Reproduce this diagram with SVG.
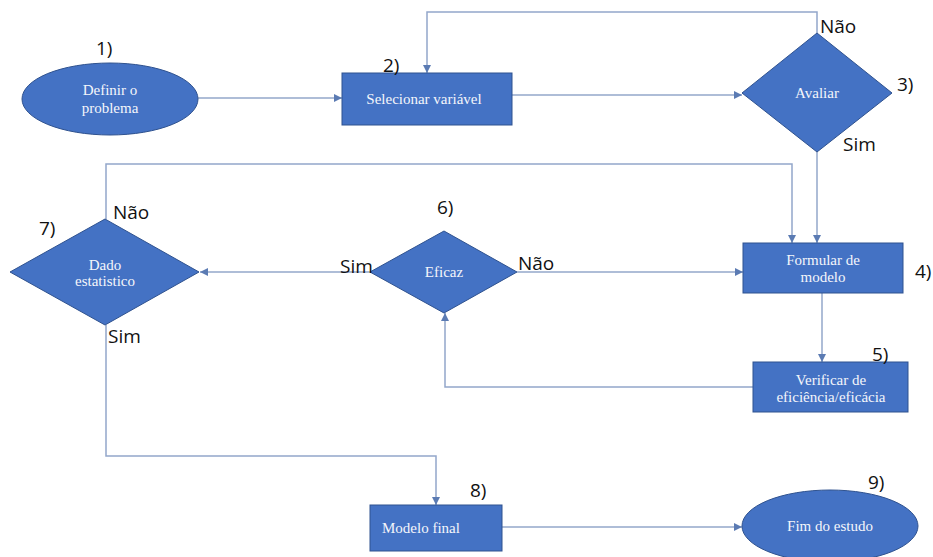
<svg xmlns="http://www.w3.org/2000/svg" width="933" height="557" viewBox="0 0 933 557">
  <style>
    .shape { fill: #4472C4; stroke: #2F528F; stroke-width: 1; }
    .ntext { font-family: "Liberation Serif", "Times New Roman", serif; font-size: 15px; fill: #F4F6FB; text-anchor: middle; }
    .label { font-family: "Open Sans", "Liberation Sans", sans-serif; font-size: 19px; fill: #111111; }
    .conn { fill: none; stroke: #93A7CA; stroke-width: 1.5; }
  </style>
  <defs>
    <marker id="arrow" viewBox="0 0 10 10" refX="10" refY="5" markerWidth="10" markerHeight="8" markerUnits="userSpaceOnUse" orient="auto">
      <path d="M0,0 L10,5 L0,10 Z" fill="#5B7BB3"/>
    </marker>
  </defs>
  <rect width="933" height="557" fill="#FFFFFF"/>

  <!-- connectors -->
  <g id="connectors">
    <path class="conn" d="M198,98 H342" marker-end="url(#arrow)"/>
    <path class="conn" d="M512,95 H742" marker-end="url(#arrow)"/>
    <path class="conn" d="M817,33 V12 H427 V73" marker-end="url(#arrow)"/>
    <path class="conn" d="M817,152 V243" marker-end="url(#arrow)"/>
    <path class="conn" d="M106,219 V164 H792 V243" marker-end="url(#arrow)"/>
    <path class="conn" d="M517,272 H743" marker-end="url(#arrow)"/>
    <path class="conn" d="M370,272 H200" marker-end="url(#arrow)"/>
    <path class="conn" d="M822,293 V362" marker-end="url(#arrow)"/>
    <path class="conn" d="M753,387 H445 V313" marker-end="url(#arrow)"/>
    <path class="conn" d="M106,325 V456 H436 V505" marker-end="url(#arrow)"/>
    <path class="conn" d="M502,527 H742" marker-end="url(#arrow)"/>
  </g>

  <!-- 1) Definir o problema -->
  <g id="n1">
    <ellipse class="shape" cx="110" cy="99" rx="88" ry="36"/>
    <text class="ntext" x="110" y="95">Definir o</text>
    <text class="ntext" x="110" y="113">problema</text>
    <text class="label" x="96" y="55">1)</text>
  </g>

  <!-- 2) Selecionar variável -->
  <g id="n2">
    <rect class="shape" x="342" y="73" width="170" height="52"/>
    <text class="ntext" x="424" y="104">Selecionar variável</text>
    <text class="label" x="383" y="72">2)</text>
  </g>

  <!-- 3) Avaliar -->
  <g id="n3">
    <polygon class="shape" points="817,33 892,93 817,152 742,93"/>
    <text class="ntext" x="817" y="98">Avaliar</text>
    <text class="label" x="820" y="33">Não</text>
    <text class="label" x="897" y="91">3)</text>
    <text class="label" x="843" y="151">Sim</text>
  </g>

  <!-- 4) Formular de modelo -->
  <g id="n4">
    <rect class="shape" x="743" y="243" width="160" height="50"/>
    <text class="ntext" x="823" y="265">Formular de</text>
    <text class="ntext" x="823" y="282">modelo</text>
    <text class="label" x="915" y="278">4)</text>
  </g>

  <!-- 5) Verificar de eficiência/eficácia -->
  <g id="n5">
    <rect class="shape" x="753" y="362" width="155" height="50"/>
    <text class="ntext" x="831" y="385">Verificar de</text>
    <text class="ntext" x="831" y="402">eficiência/eficácia</text>
    <text class="label" x="872" y="361">5)</text>
  </g>

  <!-- 6) Eficaz -->
  <g id="n6">
    <polygon class="shape" points="444,231 517,272 444,313 370,272"/>
    <text class="ntext" x="444" y="277">Eficaz</text>
    <text class="label" x="437" y="214">6)</text>
    <text class="label" x="340" y="273">Sim</text>
    <text class="label" x="518" y="270">Não</text>
  </g>

  <!-- 7) Dado estatistico -->
  <g id="n7">
    <polygon class="shape" points="105,219 199,272 105,325 10,272"/>
    <text class="ntext" x="105" y="270">Dado</text>
    <text class="ntext" x="105" y="286">estatistico</text>
    <text class="label" x="113" y="219">Não</text>
    <text class="label" x="39" y="235">7)</text>
    <text class="label" x="108" y="343">Sim</text>
  </g>

  <!-- 8) Modelo final -->
  <g id="n8">
    <rect class="shape" x="370" y="505" width="132" height="46"/>
    <text class="ntext" x="382" y="533" style="text-anchor: start">Modelo final</text>
    <text class="label" x="470" y="497">8)</text>
  </g>

  <!-- 9) Fim do estudo -->
  <g id="n9">
    <ellipse class="shape" cx="830" cy="526" rx="88" ry="36"/>
    <text class="ntext" x="830" y="531">Fim do estudo</text>
    <text class="label" x="868" y="489">9)</text>
  </g>
</svg>
